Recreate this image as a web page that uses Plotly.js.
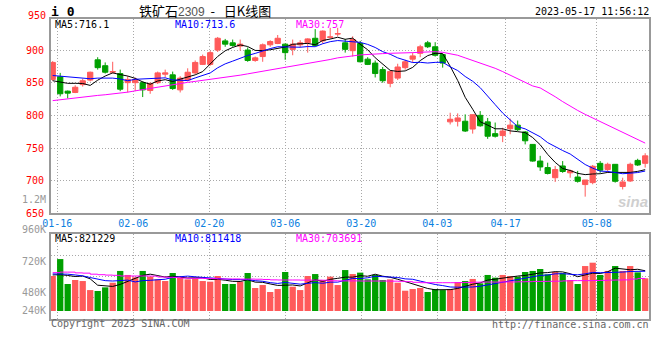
<!DOCTYPE html>
<html><head><meta charset="utf-8">
<script src="https://cdn.plot.ly/plotly-3.0.1.min.js"></script>
<style>html,body{margin:0;padding:0;background:#fff;}#chart{width:660px;height:360px;}</style>
</head><body><div id="chart"></div>
<script>
const dates = ['01-13','01-16','01-17','01-18','01-19','01-20','01-30','01-31','02-01','02-02','02-03',
'02-06','02-07','02-08','02-09','02-10','02-13','02-14','02-15','02-16','02-17',
'02-20','02-21','02-22','02-23','02-24','02-27','02-28','03-01','03-02','03-03',
'03-06','03-07','03-08','03-09','03-10','03-13','03-14','03-15','03-16','03-17',
'03-20','03-21','03-22','03-23','03-24','03-27','03-28','03-29','03-30','03-31',
'04-03','04-04','04-06','04-07','04-10','04-11','04-12','04-13','04-14',
'04-17','04-18','04-19','04-20','04-21','04-24','04-25','04-26','04-27','04-28',
'05-04','05-05','05-08','05-09','05-10','05-11','05-12','05-15','05-16','05-17'];
const open  = [855,859,837,835,847,854,885,876,866,864,850,850,850,838,850,863,862,839,854,865,878,878,900,914,911,906,900,884,890,908,910,909,901,908,911,918,914,919.5,924.5,911,899,910,886,880,870,849,857,873,886,895,911,905,893,790,791,791,779,800,790,772,769,779.5,785,774.5,755.5,730,720,704.5,722.5,712,705.5,694,697,726.5,717,725,691,699.5,731,726.5];
const high  = [883,865,838,846,856,867,889,881,882,870,860,858,852,850,867,870,867,860,872,884,893,899,920,917,916,916,904,890,910,915,923,910,916,915,918,932,930,934,934,917,921,914,889,884,874,869,879,885,896,908,914,912,893.5,804,803,801.5,801.5,806.5,796,789,781,795,792,776,756,738,727.5,722.5,730,717,715,701,724,730,727.5,725.5,704.5,727.5,733.5,742];
const low   = [853,829,826,834,844,852,870,864,864,837,835,837,828,833,848,858,839,835,852,863,877,876,897,905,905,899,882,882,882,905,909,885,892,904,896,906,910,917.5,921,896,890,881,877,858,850,843,854,870,881,889,903,890,873,786,783,774.5,772,782.5,764,766,759,771,776,755.5,729,715,709.5,698,712,704.5,697,675.5,694.5,712,712,697,686.5,698,722.5,720];
const close = [881,833,834,843,853,866,873,866,867,840,855,855,839,849,865,865,841,857,866,881,890,896,918,909,907,909,884,888,908,913,918,896,909,911,917,907,929,920,925,901,916,882,878,864,853,867,874,882,891,905,905,892,880,794,796,776,801,784,768,768,776,785,778,761,730,721,711,717,714,715,699,701,722,716,725,699,698,725,724,738];
const ma5   = [853,851,849,849,848.8,845.8,853.8,860.2,865.0,862.4,860.2,856.6,851.2,847.6,852.6,854.6,851.8,855.4,858.8,862.0,867.0,878.0,890.2,898.8,904.0,907.8,905.4,899.4,899.2,900.4,902.2,904.6,908.8,909.4,910.2,908.0,914.6,916.8,919.6,916.4,918.2,908.8,900.4,888.2,878.6,868.8,867.2,868.0,873.4,883.8,891.4,895.0,894.6,875.2,853.4,827.6,809.4,790.2,785.0,779.4,779.4,776.2,775.0,773.6,766.0,755.0,740.2,728.0,718.6,715.6,711.2,709.2,710.2,710.6,712.6,712.6,712.0,712.6,714.2,716.8];
const ma10  = [861,860,858,857,856,856,857,857,857,855.6,853.0,855.2,855.7,856.3,857.5,857.4,854.2,853.3,853.2,857.3,860.8,864.9,872.8,878.8,883.0,887.4,891.7,894.8,899.0,902.2,905.0,905.0,904.1,904.3,905.3,905.1,909.6,912.8,914.5,913.3,913.1,911.7,908.6,903.9,897.5,893.5,888.0,884.2,880.8,881.2,880.1,881.1,881.3,874.3,868.6,859.5,852.2,842.4,830.1,816.4,803.5,792.8,782.6,779.3,772.7,767.2,758.2,751.5,746.1,740.8,733.1,724.7,719.1,714.6,714.1,711.9,710.6,711.4,712.4,714.7];
const ma30  = [822.5,824,825.5,827,828.5,829.5,830.5,831.5,832.5,834,835.5,837.5,839.5,841,843,845,846.5,848.5,850.5,852,853.5,854.5,856,857.5,859.5,861.5,863.5,865.5,867,869,870.5,872.5,874.5,876.5,878.5,881,883,885.5,888,890,891,892.5,893.5,894,894.5,895,895,895.5,896,896.5,897,897.5,896.5,894.5,892,888,884,881,877,872,867,861.5,856,850.5,845,842,835.5,828.5,821,814,807.5,801.5,796,790.5,785,779.5,774,768.5,763,757.5];
const volume = [604,735,542,573,565,495,488,516,552,643,612,594,643,599,578,565,627,594,578,586,565,560,604,542,542,560,627,511,534,480,503,635,521,495,604,619,573,599,534,650,619,630,578,612,573,578,552,490,503,511,480,503,495,503,557,565,581,547,612,591,612,604,599,635,643,658,617,635,625,573,542,681,707,612,643,681,643,681,632,586];
const volMa5  = [612,614,608,600,603.8,582,532.6,527.4,523.2,538.8,562.2,583.4,608.8,618.2,605.2,595.8,602.4,592.6,588.4,590,590,576.6,578.6,571.4,562.6,561.6,575,556.4,554.8,542.4,531,532.6,534.6,526.8,551.6,574.8,562.4,578,585.8,595,595,606.4,602.2,617.8,602.4,594.2,578.6,561,539.2,526.8,507.2,497.4,498.4,498.4,507.6,524.6,540.2,550.6,572.4,579.2,588.6,593.2,603.6,608.2,618.6,627.8,630.4,637.6,635.6,621.6,598.4,611.2,625.6,623,637,664.8,657.2,652,656,644.6];
const volMa10 = [620,620,618,612,605,592,578,568,565,571.3,572.1,558,568.1,570.7,572,579,592.9,600.7,603.3,597.6,592.9,589.5,585.6,579.9,576.3,575.8,575.8,567.5,563.1,552.5,546.3,553.8,545.5,540.8,547,552.9,547.5,556.3,556.3,573.3,584.9,584.4,590.1,601.8,598.7,594.6,592.5,581.6,578.5,564.6,550.7,538,529.7,518.8,517.2,515.9,518.8,524.5,535.4,543.4,556.6,566.7,577.1,590.3,598.9,608.2,611.8,620.6,621.9,620.1,613.1,620.8,631.6,629.3,629.3,631.6,634.2,638.8,639.5,640.8];
const volMa30 = [630,634,634,628,626,618,614,611,609,604,604,604,604,603,596,594,593,588,586,586,585,584,581,581,581,580,580,579,577,574,573,573,573,572,572,572,571,567,566,566,566,565,565,565,565,564,563,560,555,552,552,552,552,552,553,554,556,557,557,557,558,558,559,560,562,562,563,564,566,568,568,568,569,570,572,573,574,580,585,586];
const tickDates = ['01-16','02-06','02-20','03-06','03-20','04-03','04-17','05-08'];
const priceTicks = [650,700,750,800,850,900];
const volLabels = ['960K','720K','480K','240K'];
const priceHeader = {ma5:'716.1', ma10:'713.6', ma30:'757'};
const volHeader = {ma5:'821229', ma10:'811418', ma30:'703691'};

const RED = '#ff5a5a', GREEN = '#00a000';
const MONO = 'DejaVu Sans Mono';
const volBase = 333;
const xs = dates.map((d, i) => i);
const isUp = close.map((c, i) => c >= open[i]);
const tickPos = tickDates.map(d => 0.61 + (dates.indexOf(d) - 1) * 1.0133);

const L = 51, R = 11, T = 19, B = 41, W = 660, H = 360;
const pw = W - L - R, ph = H - T - B;
const px = x => (x - L) / pw;
const py = y => (H - B - y) / ph;

const gridStyle = {showgrid: true, gridcolor: '#a8a8a8', griddash: '1px,2px', gridwidth: 1, zeroline: false,
  showline: true, linecolor: '#999', linewidth: 2, mirror: true, ticks: '', fixedrange: true};

const traces = [
  {type: 'candlestick', x: xs, open: open, high: high, low: low, close: close, xaxis: 'x', yaxis: 'y',
   increasing: {line: {color: RED, width: 1}, fillcolor: RED},
   decreasing: {line: {color: GREEN, width: 1}, fillcolor: GREEN},
   whiskerwidth: 0, hoverinfo: 'skip', showlegend: false},
  {type: 'scatter', mode: 'lines', x: xs, y: ma5, xaxis: 'x', yaxis: 'y', line: {color: '#000000', width: 1}, hoverinfo: 'skip'},
  {type: 'scatter', mode: 'lines', x: xs, y: ma10, xaxis: 'x', yaxis: 'y', line: {color: '#0000ff', width: 1}, hoverinfo: 'skip'},
  {type: 'scatter', mode: 'lines', x: xs, y: ma30, xaxis: 'x', yaxis: 'y', line: {color: '#ff00ff', width: 1}, hoverinfo: 'skip'},
  {type: 'bar', x: xs, y: volume.map(v => v - volBase), base: volBase, xaxis: 'x2', yaxis: 'y2', width: 0.84,
   marker: {color: isUp.map(u => u ? RED : GREEN), line: {width: 0}}, hoverinfo: 'skip'},
  {type: 'scatter', mode: 'lines', x: xs, y: volMa5, xaxis: 'x2', yaxis: 'y2', line: {color: '#000000', width: 1}, hoverinfo: 'skip'},
  {type: 'scatter', mode: 'lines', x: xs, y: volMa10, xaxis: 'x2', yaxis: 'y2', line: {color: '#0000ff', width: 1}, hoverinfo: 'skip'},
  {type: 'scatter', mode: 'lines', x: xs, y: volMa30, xaxis: 'x2', yaxis: 'y2', line: {color: '#ff00ff', width: 1, shape: 'hv'}, hoverinfo: 'skip'}
];

function ann(text, x, y, xanchor, color, size, extra) {
  return Object.assign({text: text, xref: 'paper', yref: 'paper', x: px(x), y: py(y), xanchor: xanchor, yanchor: 'middle',
    showarrow: false, borderpad: 0, font: {family: MONO, size: size || 10, color: color || '#000'}}, extra || {});
}

const volLabelY = [229.5, 261, 292, 310.5];
const annotations = [
  ann('950', 46.5, 16, 'right', '#ff0000'),
  ann('1.2M', 46.5, 200, 'right', '#999999'),
  ...volLabels.map((t, i) => ann(t, 46.5, volLabelY[i], 'right', '#999999')),
  ann('<b>i 0</b>', 50, 11.5, 'left', '#000', 13),
  ann('铁矿石<span style="font-family:Arial;font-size:12px;color:#555">2309</span>&nbsp;&nbsp;-&nbsp;&nbsp;&nbsp;日K线图', 205, 10.5, 'center', '#000', 13, {font: {family: 'Noto Sans CJK SC', size: 13, color: '#000'}}),
  ann('2023-05-17 11:56:12', 649.5, 12, 'right', '#000'),
  ann('MA5:' + priceHeader.ma5, 54, 24.5, 'left', '#000000'),
  ann('MA10:' + priceHeader.ma10, 174, 24.5, 'left', '#0000ff'),
  ann('MA30:' + priceHeader.ma30, 295, 24.5, 'left', '#ff00ff'),
  ann('MA5:' + volHeader.ma5, 54, 238, 'left', '#000000'),
  ann('MA10:' + volHeader.ma10, 174, 238, 'left', '#0000ff'),
  ann('MA30:' + volHeader.ma30, 295, 238, 'left', '#ff00ff'),
  ann('Copyright 2023 SINA.COM', 50, 323.5, 'left', '#666666'),
  ann('http://finance.sina.com.cn', 649.5, 324, 'right', '#666666'),
  ann('<b><i>sina</i></b>', 633, 201, 'center', '#c8c8c8', 15, {font: {family: 'Liberation Sans', size: 15, color: '#cfcfcf'}})
];

const volGridPx = [255.4, 276.5, 297.6];
const volRange = [271, 926.7];
const volPerPx = (volRange[1] - volRange[0]) / (ph * 0.2823);
const volGridVals = volGridPx.map(y => volRange[0] + (H - B - y) * volPerPx);

const layout = {
  width: W, height: H, margin: {l: L, r: R, t: T, b: B, pad: 0},
  paper_bgcolor: '#ffffff', plot_bgcolor: '#ffffff',
  font: {family: MONO, size: 10, color: '#000'},
  showlegend: false, hovermode: false, boxgap: 0.3, boxgroupgap: 0, bargap: 0.16,
  xaxis: Object.assign({}, gridStyle, {domain: [0, 1], anchor: 'y', range: [-0.227, 79.51],
    tickmode: 'array', tickvals: tickPos, ticktext: tickDates, ticklabelstandoff: 0,
    tickfont: {family: MONO, size: 10, color: '#0b80e0'}, rangeslider: {visible: false}}),
  yaxis: Object.assign({}, gridStyle, {domain: [0.3523, 1], anchor: 'x', range: [650, 947.5],
    tickmode: 'array', tickvals: priceTicks, ticklabelstandoff: 3,
    tickfont: {family: MONO, size: 10, color: '#ff0000'}}),
  xaxis2: Object.assign({}, gridStyle, {domain: [0, 1], anchor: 'y2', range: [-0.227, 79.51],
    tickmode: 'array', tickvals: tickPos, showticklabels: false}),
  yaxis2: Object.assign({}, gridStyle, {domain: [0, 0.2823], anchor: 'x2', range: volRange,
    tickmode: 'array', tickvals: volGridVals, showticklabels: false}),
  annotations: annotations
};

Plotly.newPlot('chart', traces, layout, {staticPlot: true, displayModeBar: false});
</script>
</body></html>
